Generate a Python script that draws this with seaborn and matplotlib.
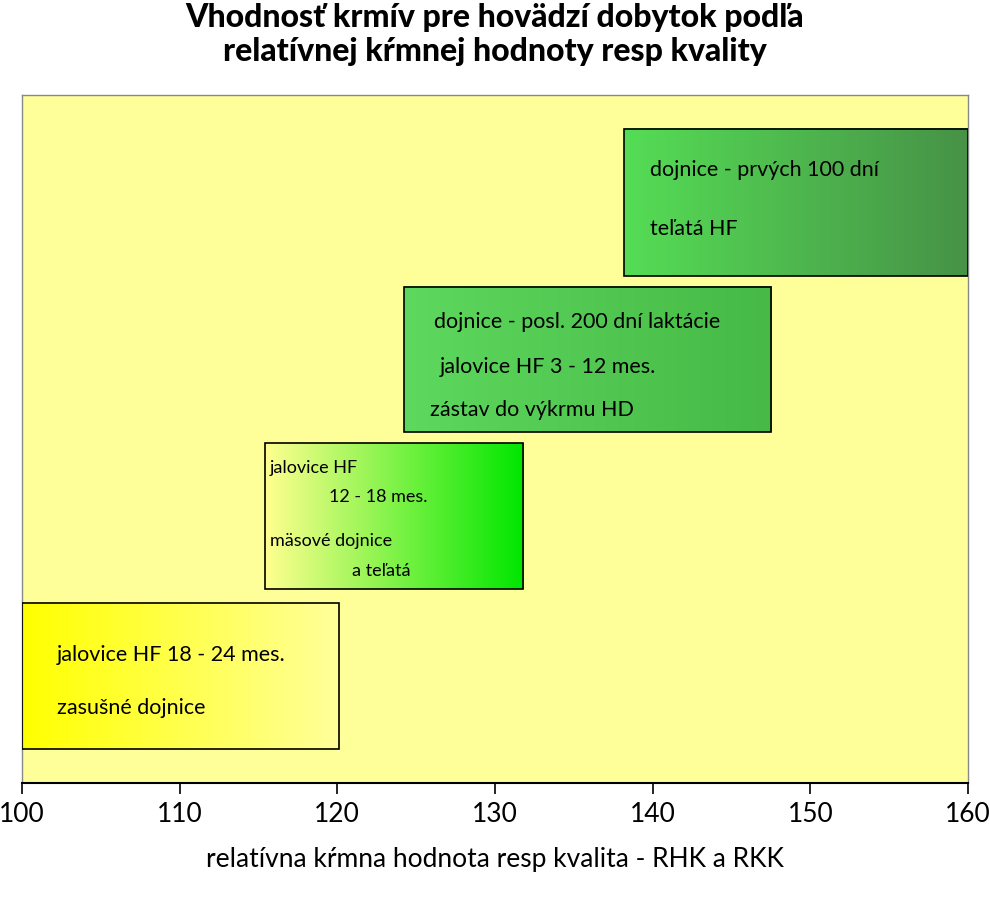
import matplotlib.pyplot as plt
import numpy as np
import seaborn as sns
from matplotlib.colors import LinearSegmentedColormap

sns.set_theme(style="white")
plt.rcParams["font.family"] = ["Lato", "DejaVu Sans"]
plt.rcParams["text.color"] = "black"
plt.rcParams["xtick.color"] = "black"
plt.rcParams["axes.labelcolor"] = "black"

# boxes: x range (RHK), vertical band (0-100 axis units)
BOX_X0 = [100.0, 115.4, 124.2, 138.2]
BOX_X1 = [120.1, 131.8, 147.5, 160.0]
BOX_Y0 = [4.9, 28.2, 51.0, 73.7]
BOX_Y1 = [26.2, 49.4, 72.2, 95.1]
BOX_COLORS = [("#ffff00", "#ffff9a"), ("#ffff90", "#00e600"),
              ("#5ed85e", "#46b946"), ("#55dd55", "#479247")]

LABELS = [
    [("jalovice HF 18 - 24 mes.", 102.2, 18.6), ("zasušné dojnice", 102.2, 10.9)],
    [("jalovice HF", 115.7, 45.8), ("12 - 18 mes.", 119.5, 41.6),
     ("mäsové dojnice", 115.7, 35.2), ("a teľatá", 120.9, 30.8)],
    [("dojnice - posl. 200 dní laktácie", 126.1, 67.0),
     ("jalovice HF 3 - 12 mes.", 126.5, 60.5),
     ("zástav do výkrmu HD", 125.9, 54.2)],
    [("dojnice - prvých 100 dní", 139.8, 89.1), ("teľatá HF", 139.8, 80.5)],
]
LABEL_SIZES = [15.5, 13, 15.5, 15.5]
XTICKS = [100, 110, 120, 130, 140, 150, 160]

fig = plt.figure(figsize=(9.9, 9), dpi=100)
ax = fig.add_axes([0.0222, 0.13, 0.9556, 0.764])
ax.set_facecolor("#ffff99")
ax.set_xlim(100, 160)
ax.set_ylim(0, 100)

grad = np.linspace(0, 1, 256).reshape(1, -1)
for i in range(len(BOX_X0)):
    cmap = LinearSegmentedColormap.from_list(f"b{i}", BOX_COLORS[i])
    ext = (BOX_X0[i], BOX_X1[i], BOX_Y0[i], BOX_Y1[i])
    ax.imshow(grad, cmap=cmap, extent=ext, aspect="auto", zorder=2)
    ax.add_patch(plt.Rectangle((BOX_X0[i], BOX_Y0[i]), BOX_X1[i] - BOX_X0[i],
                               BOX_Y1[i] - BOX_Y0[i], fill=False,
                               edgecolor="black", lw=1.2, zorder=3))
    for txt, x, y in LABELS[i]:
        ax.text(x, y, txt, fontsize=LABEL_SIZES[i], va="center", ha="left",
                zorder=4)

for side in ("top", "left", "right"):
    ax.spines[side].set_color("#888888")
    ax.spines[side].set_linewidth(1)
ax.spines["bottom"].set_color("black")
ax.spines["bottom"].set_linewidth(1.5)
ax.set_yticks([])
ax.set_xticks(XTICKS)
ax.tick_params(axis="x", direction="out", length=8, width=1.2, bottom=True,
               labelsize=19, pad=6)
ax.set_xlabel("relatívna kŕmna hodnota resp kvalita - RHK a RKK",
              fontsize=19, labelpad=14)
fig.suptitle("Vhodnosť krmív pre hovädzí dobytok podľa\nrelatívnej kŕmnej hodnoty resp kvality",
             fontsize=23, fontweight="black", y=0.997, linespacing=1.2)
fig.savefig("out.png", dpi=100)
